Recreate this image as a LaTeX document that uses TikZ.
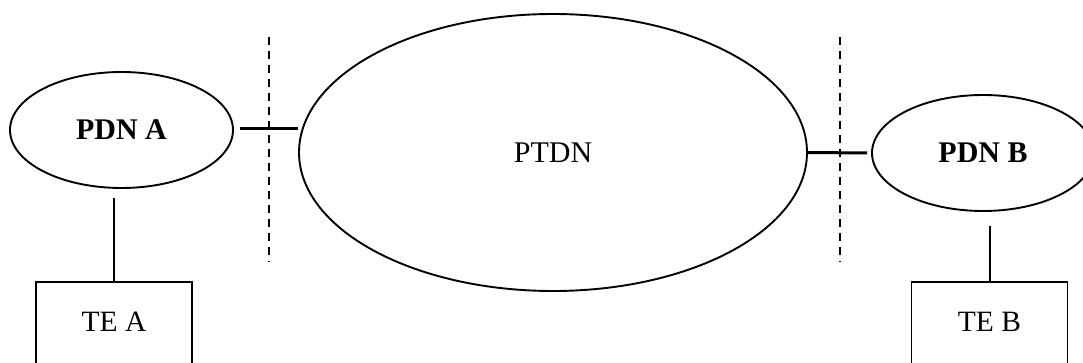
\documentclass[tikz,border=0pt]{standalone}
\usepackage{fontspec}
\setmainfont{Liberation Serif}
\usetikzlibrary{shapes.geometric}
\begin{document}
\begin{tikzpicture}[x=1pt,y=-1pt,
  net/.style={draw,ellipse,line width=1.9pt,inner sep=0pt,font=\fontsize{30}{33}\selectfont},
  tebox/.style={draw,rectangle,line width=1.9pt,minimum width=156pt,minimum height=98pt,inner sep=0pt},
  lbl/.style={font=\fontsize{29.5}{32}\selectfont},
  link/.style={line width=3pt},
  drop/.style={line width=2pt},
  border/.style={line width=1.7pt,dash pattern=on 8pt off 6pt}]
\useasboundingbox[fill=white] (0,0) rectangle (1083,363);
\node[net,minimum width=223pt,minimum height=116pt] (pdna) at (121.5,130) {\bfseries PDN A};
\node[net,minimum width=508pt,minimum height=277pt] (ptdn) at (553,152.5) {PTDN};
\node[net,minimum width=222pt,minimum height=116pt] (pdnb) at (983,153) {\bfseries PDN B};
\node[tebox] (tea) at (114,331) {};
\node[tebox] (teb) at (989.5,331) {};
\node[lbl] (tealbl) at (114,322) {TE A};
\node[lbl] (teblbl) at (989.5,322) {TE B};
\coordinate (b1t) at (269,37);
\coordinate (b1b) at (269,262);
\coordinate (b2t) at (840,37);
\coordinate (b2b) at (840,262);
\draw[border] (b1t) -- (b1b);
\draw[border] (b2t) -- (b2b);
\draw[link] ([xshift=6pt]pdna.east |- 0,129) -- (ptdn.west |- 0,129);
\draw[link] (ptdn.east) -- ([xshift=-4pt]pdnb.west);
\draw[drop,shorten >=9pt] (tea.north) -- (tea.north |- pdna.south);
\draw[drop,shorten >=14pt] (teb.north) -- (teb.north |- pdnb.south);
\end{tikzpicture}
\end{document}
